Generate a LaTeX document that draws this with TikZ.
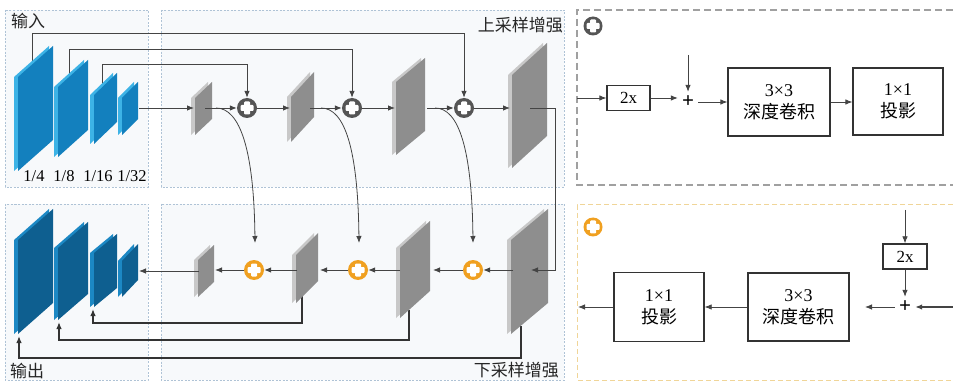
\documentclass[tikz,border=0pt]{standalone}
\usepackage{fontspec}
\setmainfont{Liberation Serif}
\newfontfamily\cjk{Noto Sans CJK SC}
\usetikzlibrary{arrows.meta}

\definecolor{bluefront}{HTML}{1380BE}
\definecolor{blueside}{HTML}{3DB3E6}
\definecolor{dbluefront}{HTML}{0E5F90}
\definecolor{dblueside}{HTML}{1C88C4}
\definecolor{grayfront}{HTML}{8E8E8E}
\definecolor{grayside}{HTML}{C8C8C8}
\definecolor{panelfill}{HTML}{F7F9FB}
\definecolor{paneledge}{HTML}{AFC3D6}
\definecolor{ringgray}{HTML}{555555}
\definecolor{ringorange}{HTML}{F0A020}
\definecolor{lineg}{HTML}{444444}
\definecolor{gpaneledge}{HTML}{A0A0A0}
\definecolor{opaneledge}{HTML}{F0D598}

% name, x1, x2, y top-left, y bottom-left, skew, front colour, side colour
\newcommand\fmap[8]{%
  \fill[#8] ({#2-4},#5) -- ({#2-4},#4) -- ({#3-4},{#4-#6}) -- ({#3-4},{#5-#6}) -- cycle;
  \fill[#7] (#2,#5) -- (#2,#4) -- (#3,{#4-#6}) -- (#3,{#5-#6}) -- cycle;
  \coordinate (#1) at ({(#2+#3)/2},{(#4+#5-#6)/2});
}

\tikzset{
  panel/.style={fill=panelfill, draw=paneledge, line width=0.6pt, dash pattern=on 2pt off 1.5pt},
  gpanel/.style={draw=gpaneledge, line width=1.4pt, dash pattern=on 7pt off 4pt},
  opanel/.style={draw=opaneledge, line width=1pt, dash pattern=on 5pt off 3pt},
  arr/.style={-{Latex[length=7pt,width=5.5pt]}, draw=lineg, line width=0.8pt},
  feed/.style={draw=lineg, line width=0.8pt},
  thickline/.style={-{Latex[length=7pt,width=5.5pt]}, draw=black!80, line width=1.3pt},
  ring/.style={circle, minimum size=20pt, inner sep=0pt, fill=#1,
    path picture={
      \fill[white, rounded corners=1pt] ([xshift=-3pt,yshift=-6.5pt]path picture bounding box.center) rectangle ++(6pt,13pt);
      \fill[white, rounded corners=1pt] ([xshift=-6.5pt,yshift=-3pt]path picture bounding box.center) rectangle ++(13pt,6pt);
    }},
  cjklab/.style={font=\cjk\fontsize{17}{17}\selectfont, inner sep=0pt, text=black!85},
  numlab/.style={font=\fontsize{16.5}{16.5}\selectfont, inner sep=0pt},
  box/.style={draw=black!80, line width=1.3pt, inner sep=0pt, align=center,
    font=\fontsize{18}{22}\selectfont},
  sbox/.style={draw=black!80, line width=1.3pt, inner sep=0pt, align=center,
    font=\fontsize{17}{17}\selectfont},
  plusnode/.style={inner sep=0pt, minimum size=20pt, font=\fontsize{21}{21}\selectfont\bfseries},
}

\begin{document}
\begin{tikzpicture}[x=1pt,y=-1pt]
\useasboundingbox (0,0) rectangle (953,382);
\fill[white] (0,0) rectangle (953,382);

% ---------- left panels ----------
\draw[panel] (5,10) rectangle (148,187);
\draw[panel] (161,10) rectangle (564,187);
\draw[panel] (5,204) rectangle (148,380);
\draw[panel] (161,204) rectangle (564,380);

\node[cjklab, anchor=west] (inlab) at (11,21) {输入};
\node[cjklab, anchor=east] (uplab) at (563,25) {上采样增强};
\node[cjklab, anchor=west] (outlab) at (10,371) {输出};
\node[cjklab, anchor=east] (downlab) at (559,370) {下采样增强};

\node[numlab] (l4) at (34,176) {1/4};
\node[numlab] (l8) at (64,176) {1/8};
\node[numlab] (l16) at (98,176) {1/16};
\node[numlab] (l32) at (132,176) {1/32};

% fusion nodes
\node[ring=ringgray] (c1) at (247,108) {};
\node[ring=ringgray] (c2) at (352,108) {};
\node[ring=ringgray] (c3) at (464,108) {};
\node[ring=ringorange] (o1) at (254,270) {};
\node[ring=ringorange] (o2) at (358,270) {};
\node[ring=ringorange] (o3) at (473,270) {};

% skip connections from encoder (drawn under the maps)
\coordinate (a1t) at (32,72);
\coordinate (a2t) at (69,80);
\coordinate (a3t) at (102,88);
\draw[arr] (a1t) -- (32,33) -| (c3.north);
\draw[arr] (a2t) -- (69,49) -| (c2.north);
\draw[arr] (a3t) -- (102,64) -| (c1.north);

% long output connections (under the maps)
\coordinate (b2b) at (302,294);
\coordinate (b3b) at (409,310);
\coordinate (b4b) at (521,326);
\coordinate (m3b) at (93,309);
\coordinate (m2b) at (59,322);
\coordinate (m1b) at (19,336);
\draw[thickline] (b2b) -- (302,323) -| (m3b);
\draw[thickline] (b3b) -- (409,340) -| (m2b);
\draw[thickline] (b4b) -- (521,358) -| (m1b);

% ---------- feature maps ----------
\fmap{A1}{18}{53}{77}{171}{31}{bluefront}{blueside}
\fmap{A2}{58}{88}{87}{157}{27}{bluefront}{blueside}
\fmap{A3}{94}{117}{95}{144}{22}{bluefront}{blueside}
\fmap{A4}{122}{138}{98}{135}{16}{bluefront}{blueside}

\fmap{G1}{195}{212}{98}{135}{16}{grayfront}{grayside}
\fmap{G2}{291}{314}{97}{142}{25}{grayfront}{grayside}
\fmap{G3}{396}{425}{82}{155}{24}{grayfront}{grayside}
\fmap{G4}{512}{547}{75}{168}{32}{grayfront}{grayside}

\fmap{B1}{198}{214}{260}{297}{15}{grayfront}{grayside}
\fmap{B2}{296}{318}{255}{303}{22}{grayfront}{grayside}
\fmap{B3}{400}{430}{248}{318}{27}{grayfront}{grayside}
\fmap{B4}{511}{548}{240}{334}{31}{grayfront}{grayside}

\fmap{M1}{18}{53}{240}{334}{31}{dbluefront}{dblueside}
\fmap{M2}{58}{88}{248}{320}{26}{dbluefront}{dblueside}
\fmap{M3}{94}{117}{253}{307}{19}{dbluefront}{dblueside}
\fmap{M4}{122}{138}{261}{297}{17}{dbluefront}{dblueside}

% ---------- upsampling row ----------
\coordinate (a4o) at (139,108);
\coordinate (g1i) at (194,108);
\coordinate (g1o) at (205,108);
\coordinate (g2i) at (290,108);
\coordinate (g2o) at (310,108);
\coordinate (g3i) at (395,108);
\coordinate (g3o) at (427,108);
\coordinate (g4i) at (510,108);
\coordinate (g4o) at (530,108);
\draw[arr] (a4o) -- (g1i);
\draw[arr] (g1o) -- (c1.west);
\draw[arr] (c1.east) -- (g2i);
\draw[arr] (g2o) -- (c2.west);
\draw[arr] (c2.east) -- (g3i);
\draw[arr] (g3o) -- (c3.west);
\draw[arr] (c3.east) -- (g4i);

% up -> down transfer
\coordinate (b4i) at (531,270);
\draw[arr] (g4o) -- (555,108) -- (555,270) -- (b4i);

% curved branches
\coordinate (o1t) at (255,243);
\coordinate (o2t) at (359,243);
\coordinate (o3t) at (473,243);
\draw[arr] (216,108) .. controls (240,108) and (254,150) .. (o1t);
\draw[arr] (321,108) .. controls (345,108) and (358,150) .. (o2t);
\draw[arr] (435,108) .. controls (459,108) and (472,150) .. (o3t);

% ---------- downsampling row ----------
\coordinate (b4l) at (513,270);
\coordinate (b3r) at (433,270);
\coordinate (b3l) at (400,270);
\coordinate (b2r) at (320,270);
\coordinate (b2l) at (297,270);
\coordinate (b1r) at (215,270);
\coordinate (b1l) at (199,271);
\coordinate (m4r) at (139,271);
\draw[arr] (b4l) -- (o3.east);
\draw[arr] (o3.west) -- (b3r);
\draw[arr] (b3l) -- (o2.east);
\draw[arr] (o2.west) -- (b2r);
\draw[arr] (b2l) -- (o1.east);
\draw[arr] (o1.west) -- (b1r);
\draw[arr] (b1l) -- (m4r);

% ---------- right top panel ----------
\draw[gpanel] (953,10) -- (577,10) -- (577,185) -- (953,185);
\node[ring=ringgray, minimum size=19pt] (icg) at (593,26) {};
\coordinate (ina) at (577,98);
\node[sbox, minimum width=43pt, minimum height=25pt] (x2a) at (628.5,98) {2x};
\node[plusnode] (pa) at (688,102) {+};
\coordinate (topa) at (688,55);
\node[box, minimum width=102pt, minimum height=68pt] (dwa) at (779,102) {3×3\\{\cjk 深度卷积}};
\node[box, minimum width=90pt, minimum height=67pt] (pja) at (898,101.5) {1×1\\{\cjk 投影}};
\draw[arr] (ina) -- (x2a.west);
\draw[arr] (x2a.east) -- (x2a.east -| pa.west);
\draw[arr] (topa) -- (pa.north);
\draw[arr] (pa.east) -- (pa.east -| dwa.west);
\draw[arr] (dwa.east) -- (dwa.east -| pja.west);

% ---------- right bottom panel ----------
\draw[opanel] (953,205) -- (577,205) -- (577,380) -- (953,380);
\node[ring=ringorange, minimum size=19pt] (ico) at (593,227) {};
\coordinate (topb) at (905,210);
\node[sbox, minimum width=44pt, minimum height=25pt] (x2b) at (905,256.5) {2x};
\node[plusnode] (pb) at (905,307) {+};
\coordinate (inb) at (953,307);
\coordinate (gapb) at (865,307);
\node[box, minimum width=101pt, minimum height=68pt] (dwb) at (798.5,307) {3×3\\{\cjk 深度卷积}};
\node[box, minimum width=90pt, minimum height=69pt] (pjb) at (659,307) {1×1\\{\cjk 投影}};
\coordinate (outb) at (578,307);
\draw[arr] (topb) -- (x2b.north);
\draw[arr] (x2b.south) -- (pb.north);
\draw[arr, line width=1.3pt] (inb) -- (pb.east);
\draw[arr] (pb.west) -- (gapb);
\draw[arr] (dwb.west) -- (pjb.east);
\draw[arr] (pjb.west) -- (outb);
\end{tikzpicture}
\end{document}
